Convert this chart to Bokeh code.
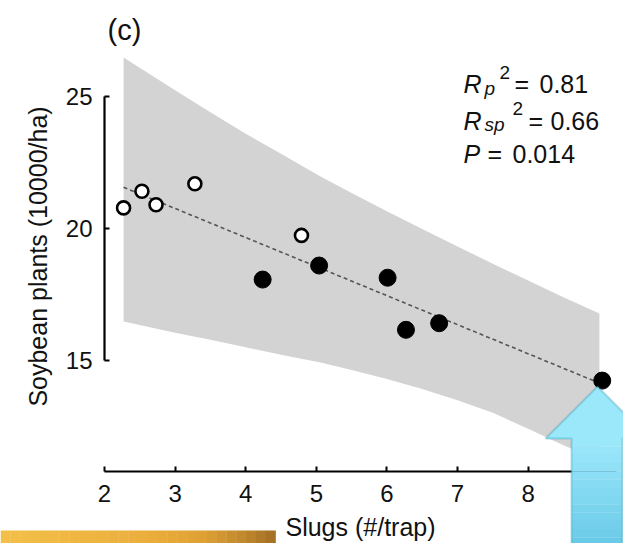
import math
from bokeh.plotting import figure
from bokeh.models import Range1d, FixedTicker, Label, PolyAnnotation, BoxAnnotation
from bokeh.embed import file_html
from bokeh.resources import INLINE

# ---- data ----
open_slugs = [2.27, 2.53, 2.73, 3.28, 4.79]
open_plants = [20.77, 21.40, 20.89, 21.68, 19.73]
filled_slugs = [4.24, 5.04, 6.01, 6.27, 6.74, 9.05]
filled_plants = [18.06, 18.59, 18.13, 16.16, 16.41, 14.24]
fit_slugs = [2.27, 8.98]
fit_plants = [21.55, 14.18]
band_slugs = [2.27, 3.0, 3.5, 4.0, 4.5, 5.06, 5.5, 6.0, 6.5, 7.0, 7.5, 8.0, 8.5, 9.01]
band_upper = [26.46, 25.22, 24.39, 23.57, 22.82, 21.96, 21.33, 20.64, 19.97, 19.31, 18.66, 18.02, 17.39, 16.78]
band_lower = [16.47, 16.05, 15.78, 15.50, 15.22, 14.92, 14.64, 14.30, 13.92, 13.50, 13.02, 12.42, 11.80, 11.22]
x_ticks = [2, 3, 4, 5, 6, 7, 8, 9]
y_ticks = [15, 20, 25]

FONT = "Liberation Sans"
W, H = 623, 543

# helpers converting reference-image pixel positions to data positions
def dx(px):
    return 2 + (px - 104) / 70.6

def dy(py):
    return 25 - (py - 95.5) / 26.45

p = figure(width=W, height=H, output_backend="svg", toolbar_location=None,
           x_range=Range1d(dx(0), dx(W)), y_range=Range1d(dy(H), dy(0)),
           min_border=0, min_border_left=0, min_border_right=0,
           min_border_top=0, min_border_bottom=0)
p.outline_line_color = None
p.xgrid.visible = False
p.ygrid.visible = False
p.background_fill_color = "white"
p.border_fill_color = "white"

# band
p.varea(x=band_slugs, y1=band_lower, y2=band_upper, fill_color="#d3d3d3", fill_alpha=1.0)
# fit line
p.line(fit_slugs, fit_plants, line_color="#555555", line_width=1.6, line_dash="4 3")
# points
p.scatter(open_slugs, open_plants, size=13, fill_color="white", line_color="black", line_width=2.6)
p.scatter(filled_slugs, filled_plants, size=17, fill_color="black", line_color="black")

# axes (R-style, offset from the data, drawn at fixed positions)
for ax, ticks, bounds in ((p.xaxis[0], x_ticks, (2, 9.25)), (p.yaxis[0], y_ticks, (15, 25))):
    ax.ticker = FixedTicker(ticks=ticks)
    ax.bounds = bounds
    ax.minor_tick_line_color = None
    ax.major_tick_in = 5
    ax.major_tick_out = 0
    ax.axis_line_width = 2.2
    ax.major_tick_line_width = 2
    ax.axis_line_color = "black"
    ax.major_tick_line_color = "black"
    ax.major_label_text_font = FONT
    ax.major_label_text_font_size = "24px"
    ax.major_label_text_color = "#111111"
    ax.axis_label_text_font = FONT
    ax.axis_label_text_font_size = "25px"
    ax.axis_label_text_font_style = "normal"
    ax.axis_label_text_color = "#111111"

p.xaxis.fixed_location = dy(471)
p.yaxis.fixed_location = 2
p.xaxis.axis_label = "Slugs (#/trap)"
p.xaxis.major_label_standoff = 13
p.xaxis.axis_label_standoff = 8
p.yaxis.major_label_standoff = 12

# y-axis title
p.add_layout(Label(x=dx(37), y=dy(256), text="Soybean plants (10000/ha)", angle=math.pi / 2,
                   text_font=FONT, text_font_size="25px", text_color="#111111",
                   text_align="center", text_baseline="alphabetic"))

# panel label
p.add_layout(Label(x=dx(107), y=dy(29), text="(c)", text_font=FONT, text_font_size="29px",
                   text_color="#111111", text_baseline="alphabetic"))

# statistics annotation
def lab(px, py, text, size, italic=False):
    p.add_layout(Label(x=dx(px), y=dy(py), text=text, text_font=FONT,
                       text_font_size=size, text_color="#111111",
                       text_font_style="italic" if italic else "normal",
                       text_baseline="alphabetic"))

lab(463, 83, "R", "25px", True)
lab(484, 88, "p", "19px", True)
lab(499, 72, "2", "19px")
lab(514, 83, "=", "25px")
lab(539, 83, "0.81", "25px")

lab(463, 120, "R", "25px", True)
lab(484, 124, "sp", "19px", True)
lab(512, 108, "2", "19px")
lab(528, 120, "=", "25px")
lab(550, 120, "0.66", "25px")

lab(463, 153, "P", "25px", True)
lab(487, 153, "=", "25px")
lab(512, 153, "0.014", "25px")

# ---- slide decorations (gold bar, blue arrow) ----
def lerp(c1, c2, t):
    return "#%02x%02x%02x" % tuple(int(round(a + (b - a) * t)) for a, b in zip(c1, c2))

stops = [(0, (243, 192, 72)), (150, (234, 174, 60)), (205, (222, 160, 52)),
         (245, (190, 134, 44)), (275, (162, 110, 36))]
n = 28
for i in range(n):
    x0 = 275 * i / n
    x1 = 275 * (i + 1) / n
    xm = (x0 + x1) / 2
    for (a, ca), (b, cb) in zip(stops[:-1], stops[1:]):
        if a <= xm <= b:
            col = lerp(ca, cb, (xm - a) / (b - a))
    p.add_layout(BoxAnnotation(left=dx(x0), right=dx(x1) + 0.005, top=dy(530), bottom=dy(570),
                               fill_color=col, fill_alpha=1.0, line_color=None, level="overlay"))

# arrow shaft with vertical gradient
m = 16
for i in range(m):
    y0 = 438 + (570 - 438) * i / m
    y1 = 438 + (570 - 438) * (i + 1) / m
    col = lerp((158, 233, 252), (92, 194, 226), (i + 0.5) / m)
    p.add_layout(BoxAnnotation(left=dx(571), right=dx(622), top=dy(y0) + 0.01, bottom=dy(y1),
                               fill_color=col, fill_alpha=1.0, line_color=None, level="overlay"))
# arrow head
p.add_layout(PolyAnnotation(xs=[dx(597), dx(649), dx(545)], ys=[dy(386), dy(438.5), dy(438.5)],
                            fill_color="#9ce8fb", fill_alpha=1.0, line_color=None, level="overlay"))
# arrow outline
ax_px = [597, 649, 622, 622, 571, 571, 545]
ay_px = [386, 438, 438, 575, 575, 438, 438]
p.add_layout(PolyAnnotation(xs=[dx(v) for v in ax_px], ys=[dy(v) for v in ay_px],
                            fill_color=None, fill_alpha=0, line_color="#1a93ad", line_width=2,
                            level="overlay"))

open("out.html", "w").write(file_html(p, INLINE))
